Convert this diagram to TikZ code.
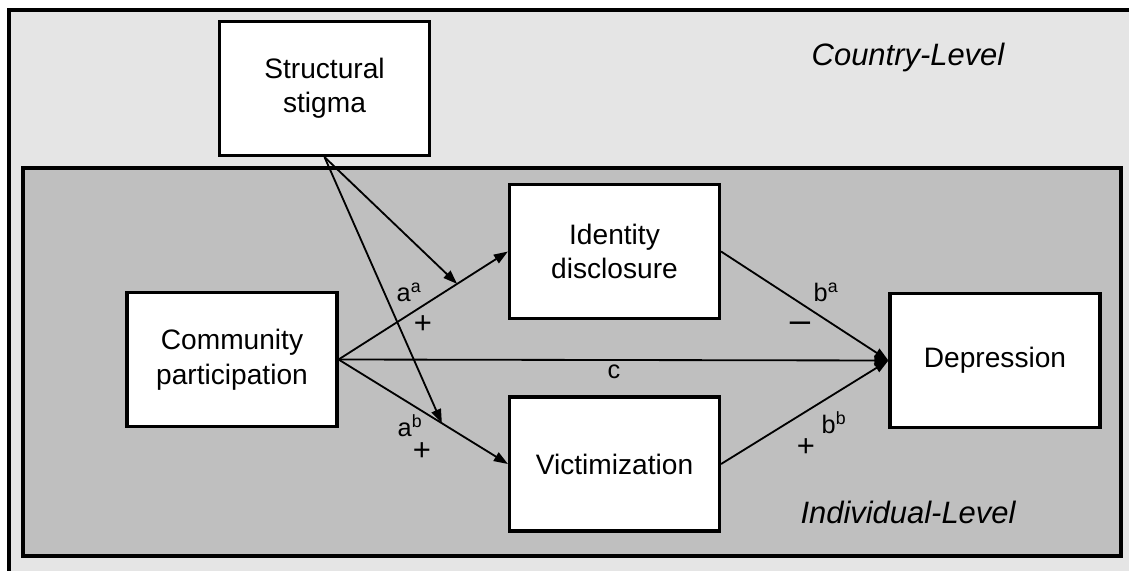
\documentclass[tikz,border=0pt]{standalone}
\usepackage{fontspec}
\setmainfont{Liberation Sans}
\usetikzlibrary{arrows.meta,calc}
\definecolor{countrygray}{HTML}{E5E5E5}
\definecolor{indivgray}{HTML}{BFBFBF}
\begin{document}
\begin{tikzpicture}[x=0.025cm, y=-0.025cm,
    box/.style={draw, line width=2.2pt, fill=white, minimum width=5.25cm,
        minimum height=3.35cm, align=center, font=\fontsize{20}{24.5}\selectfont},
    path/.style={line width=1.3pt, -{Triangle[length=10pt,width=7pt]}},
    lbl/.style={font=\fontsize{18}{20}\selectfont, inner sep=0pt},
    sign/.style={font=\fontsize{22}{24}\selectfont, inner sep=0pt},
    level/.style={font=\fontsize{22}{26}\selectfont\itshape}]
\clip (0,0) rectangle (1129,571);
% the two levels
\draw[fill=countrygray, line width=2.2pt] (9,10) rectangle (1160,600);
\draw[fill=indivgray, line width=2.2pt] (23,168) rectangle (1121,556);
\node[level] (country) at (908,58) {Country-Level};
\node[level] (indiv) at (908,512) {Individual-Level};
% variables
\node[box] (ss) at (324.5,88.5) {Structural\\stigma};
\node[box] (cp) at (232,359.5) {Community\\participation};
\node[box] (id) at (614.5,251.5) {Identity\\disclosure};
\node[box] (vic) at (614.5,464) {Victimization};
\node[box] (dep) at (995,360.5) {Depression};
% paths
\draw[path] (cp.east) -- (id.west);
\draw[path] (cp.east) -- (vic.west);
\draw[path] (cp.east) -- (dep.west);
\draw[path] (id.east) -- (dep.west);
\draw[path] (vic.east) -- (dep.west);
% moderation
\coordinate (modid) at ($(cp.east)!0.7!(id.west)$);
\coordinate (modvic) at ($(cp.east)!0.61!(vic.west)$);
\draw[path] (ss.south) -- (modid);
\draw[path] (ss.south) -- (modvic);
% labels
\node[lbl] (aa) at (409,292) {a\textsuperscript{a}};
\node[sign] (aaplus) at (423,325) {+};
\node[lbl] (ab) at (410,426) {a\textsuperscript{b}};
\node[sign] (abplus) at (422,452) {+};
\node[lbl] (c) at (614,372) {c};
\node[lbl] (ba) at (826,292) {b\textsuperscript{a}};
\node[sign, font=\fontsize{26}{28}\selectfont] (baminus) at (800,327) {\textendash};
\node[lbl] (bb) at (834,423) {b\textsuperscript{b}};
\node[sign] (bbplus) at (806,448) {+};
\end{tikzpicture}
\end{document}
